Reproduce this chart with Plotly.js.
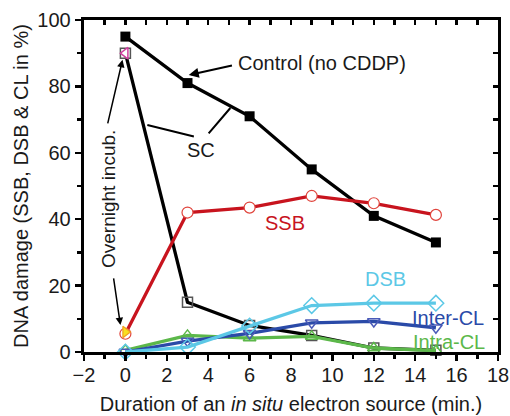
<!DOCTYPE html>
<html>
<head>
<meta charset="utf-8">
<script src="https://cdn.plot.ly/plotly-3.0.1.min.js"></script>
<style>html,body{margin:0;padding:0;background:#fff;}#chart{width:510px;height:416px;}</style>
</head>
<body>
<div id="chart"></div>
<script>
const durations = [0, 3, 6, 9, 12, 15];
const controlVals = [95, 81, 71, 55, 41, 33];
const scVals = [90, 15, 8, 5, 1.2, 0.5];
const ssbVals = [5.5, 42, 43.5, 47, 44.8, 41.3];
const dsbVals = [0, 1.5, 7.8, 14, 14.7, 14.7];
const interVals = [0, 3.3, 5.6, 8.8, 9.2, 7.3];
const intraVals = [0.5, 5, 4.2, 4.7, 1.2, 0.4];
const overnightX = [0];
const overnightSC = [90];
const overnightSSB = [6];

const font = "Liberation Sans, Arial, sans-serif";
const tc = '#1a1a1a';

const traces = [
  {x: durations, y: scVals, mode: 'lines+markers', name: 'SC',
   line: {color: '#000', width: 3.3},
   marker: {symbol: 'square-open', size: 10, color: '#555', line: {width: 1.5}}, cliponaxis: false},
  {x: durations, y: controlVals, mode: 'lines+markers', name: 'Control',
   line: {color: '#000', width: 3.3},
   marker: {symbol: 'square', size: 10, color: '#000'}, cliponaxis: false},
  {x: durations, y: intraVals, mode: 'lines+markers', name: 'Intra-CL',
   line: {color: '#5cb84a', width: 3.3},
   marker: {symbol: 'triangle-up-open', size: 11, color: '#5cb84a', line: {width: 1.5}}, cliponaxis: false},
  {x: durations, y: interVals, mode: 'lines+markers', name: 'Inter-CL',
   line: {color: '#2a4aa8', width: 3.3},
   marker: {symbol: 'triangle-down-open', size: 11, color: '#4a5ab8', line: {width: 1.5}}, cliponaxis: false},
  {x: durations, y: dsbVals, mode: 'lines+markers', name: 'DSB',
   line: {color: '#5cc8e6', width: 3.3},
   marker: {symbol: 'diamond-open', size: 12, color: '#5cc8e6', line: {width: 1.5}}, cliponaxis: false},
  {x: durations, y: ssbVals, mode: 'lines+markers', name: 'SSB',
   line: {color: '#c8141e', width: 3.3},
   marker: {symbol: 'circle', size: 11, color: '#fff', line: {color: '#e0443c', width: 1.2}}, cliponaxis: false},
  {x: overnightX, y: overnightSC, mode: 'markers', name: 'Overnight SC',
   marker: {symbol: 'triangle-left', size: 10, color: '#fff', line: {color: '#d040a0', width: 1.5}}, cliponaxis: false},
  {x: overnightX, y: overnightSSB, mode: 'markers', name: 'Overnight SSB',
   marker: {symbol: 'triangle-right', size: 10, color: '#f8e020', line: {color: '#f0a020', width: 1.2}}, cliponaxis: false},
  {x: [-2], y: [0], xaxis: 'x2', yaxis: 'y2', mode: 'markers', marker: {opacity: 0}, hoverinfo: 'skip', showlegend: false}
];

function arrow(x, y, ax, ay, head, w) {
  return {x: x, y: y, ax: ax, ay: ay, axref: 'x', ayref: 'y', text: '', showarrow: true,
    arrowhead: head, arrowsize: 1, arrowwidth: w, arrowcolor: '#000'};
}
function label(px, py, text, color, size, angle) {
  return {xref: 'paper', yref: 'paper', x: (px - 84) / 414, y: (352 - py) / 332,
    xanchor: 'center', yanchor: 'middle', text: text, showarrow: false,
    textangle: angle || 0, font: {size: size || 20, color: color || tc}};
}

const layout = {
  width: 510, height: 416,
  margin: {l: 84, r: 12, t: 20, b: 64},
  showlegend: false,
  paper_bgcolor: '#fff', plot_bgcolor: '#fff',
  font: {family: font, size: 20, color: tc},
  xaxis: {
    range: [-2, 18], dtick: 2, tick0: 0, showgrid: false, zeroline: false,
    showline: true, linewidth: 3.3, linecolor: '#000',
    ticks: 'outside', ticklen: 6, tickwidth: 2.5, tickcolor: '#000', ticklabelstandoff: -3,
    minor: {dtick: 1, ticks: 'outside', ticklen: 4, tickwidth: 2.5, tickcolor: '#000'},
    tickfont: {size: 20, family: font, color: tc},
    title: {text: 'Duration of an <i>in situ</i> electron source (min.)', font: {size: 20, family: font, color: tc}, standoff: 12}
  },
  yaxis: {
    range: [0, 100], dtick: 20, showgrid: false, zeroline: false,
    showline: true, linewidth: 3.3, linecolor: '#000',
    ticks: 'outside', ticklen: 6, tickwidth: 2.5, tickcolor: '#000',
    minor: {dtick: 10, ticks: 'outside', ticklen: 4, tickwidth: 2.5, tickcolor: '#000'},
    tickfont: {size: 20, family: font, color: tc},
    title: {text: 'DNA damage (SSB, DSB & CL in %)', font: {size: 20, family: font, color: tc}, standoff: 4}
  },
  xaxis2: {
    overlaying: 'x', side: 'top', range: [-2, 18], dtick: 1, showticklabels: false,
    showgrid: false, zeroline: false, showline: true, linewidth: 3.3, linecolor: '#000',
    ticks: 'inside', ticklen: 5, tickwidth: 2.5, tickcolor: '#000'
  },
  yaxis2: {
    overlaying: 'y', side: 'right', range: [0, 100], dtick: 10, showticklabels: false,
    showgrid: false, zeroline: false, showline: true, linewidth: 3.3, linecolor: '#000',
    ticks: 'inside', ticklen: 5, tickwidth: 2.5, tickcolor: '#000'
  },
  annotations: [
    arrow(3.06, 83.4, 5.22, 86.4, 2, 2),
    {xref: 'paper', yref: 'paper', x: (236 - 84) / 414, y: (352 - 63) / 332, xanchor: 'left', yanchor: 'middle',
     text: 'Control (no CDDP)', showarrow: false, font: {size: 20, color: tc}},
    label(201, 150, 'SC'),
    arrow(1.06, 68.4, 3.38, 64.8, 0, 2),
    arrow(5.07, 73.5, 3.96, 65.4, 0, 2),
    label(108, 199, 'Overnight incub.', tc, 19, -90),
    arrow(-0.14, 88, -0.87, 68.4, 2, 1.5),
    arrow(-0.24, 8.1, -0.58, 22.6, 2, 1.5),
    label(285, 223, 'SSB', '#c8141e'),
    label(385, 279, 'DSB', '#5cc8e6'),
    label(448, 318, 'Inter-CL', '#2a4aa8'),
    label(449, 342, 'Intra-CL', '#5cb84a')
  ]
};

Plotly.newPlot('chart', traces, layout, {displayModeBar: false, staticPlot: true});
</script>
</body>
</html>
